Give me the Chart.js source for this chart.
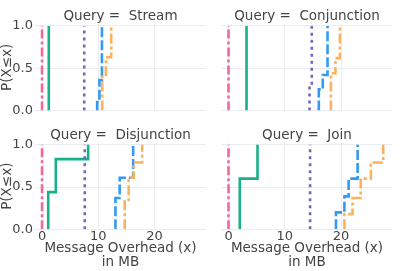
<!DOCTYPE html>
<html><head><meta charset="utf-8">
<script src="https://cdn.jsdelivr.net/npm/chart.js@4.4.1/dist/chart.umd.min.js"></script>
<style>
html,body{margin:0;padding:0;background:#fff;width:407px;height:271px;overflow:hidden}
canvas{position:absolute;left:0;top:0}
</style></head>
<body>
<canvas id="c0" width="407" height="271"></canvas>
<canvas id="c1" width="407" height="271"></canvas>
<canvas id="c2" width="407" height="271"></canvas>
<canvas id="c3" width="407" height="271"></canvas>
<script>
// ---- data ----
const queries = ['Stream', 'Conjunction', 'Disjunction', 'Join'];
const xTicks = [0, 10, 20];
const yTicks = [0, 0.5, 1.0];
const xTitle = ['Message Overhead (x)', 'in MB'];
const yTitle = 'P(X\u2264x)';
// step positions (MB) and cumulative probability after each step, one list per query
const pinkX   = [[0], [0], [0], [0]];
const pinkY   = [[1], [1], [1], [1]];
const greenX  = [[1.2], [3.2], [1.1, 2.45, 8.2], [2.0, 5.15]];
const greenY  = [[1], [1], [0.44, 0.83, 1], [0.6, 1]];
const purpleX = [[7.5], [14.4, 14.8], [7.6], [14.5]];
const purpleY = [[1], [0.3, 1], [1], [1]];
const blueX   = [[9.8, 10.2, 10.65], [16.05, 16.75, 17.6], [13.05, 13.8, 16.2], [19.1, 20.6, 21.35, 22.95]];
const blueY   = [[0.1, 0.36, 1], [0.25, 0.42, 1], [0.37, 0.61, 1], [0.2, 0.39, 0.6, 1]];
const orangeX = [[10.7, 11.35, 12.3], [18.2, 19.0, 19.8], [14.7, 15.4, 16.3, 17.8], [20.6, 22.05, 23.5, 25.3, 27.5]];
const orangeY = [[0.42, 0.63, 1], [0.44, 0.62, 1], [0.33, 0.61, 0.79, 1], [0.18, 0.37, 0.6, 0.79, 1]];

// ---- styling / layout ----
Chart.defaults.font.family = "'DejaVu Sans', sans-serif";
const TEXT = '#444444';
const GRID = '#e9ecf1';
const X_MIN = -1.25, X_MAX = 29.15, Y_MIN = 0, Y_MAX = 1.02;
const W = 407, H = 271, TITLE_H = 15;
const panels = [
  {L: 35, R: 206, T: 24.3, B: 110.5, showY: true, showX: false},
  {L: 221.5, R: 392.5, T: 24.3, B: 110.5, showY: false, showX: false},
  {L: 35, R: 206, T: 143.1, B: 229.3, showY: true, showX: true},
  {L: 221.5, R: 392.5, T: 143.1, B: 229.3, showY: false, showX: true}
];
const series = [
  {xs: orangeX, ys: orangeY, color: '#fdb15c', dash: [10, 3, 3, 3]},
  {xs: blueX, ys: blueY, color: '#3399f5', dash: [10, 3]},
  {xs: purpleX, ys: purpleY, color: '#7466b9', dash: [3, 4]},
  {xs: greenX, ys: greenY, color: '#17b18b', dash: []},
  {xs: pinkX, ys: pinkY, color: '#f4669b', dash: [9, 3, 3, 3]}
];

panels.forEach((p, i) => {
  const datasets = series.map(s => ({
    data: [{x: s.xs[i][0], y: 0}].concat(s.xs[i].map((x, k) => ({x: x, y: s.ys[i][k]}))),
    borderColor: s.color,
    borderWidth: 2.6,
    borderDash: s.dash,
    stepped: 'before',
    pointRadius: 0,
    fill: false
  }));
  new Chart(document.getElementById('c' + i), {
    type: 'line',
    data: {datasets},
    options: {
      responsive: false,
      animation: false,
      events: [],
      layout: {padding: {
        left: p.showY ? 0 : p.L,
        right: W - p.R,
        top: p.T - TITLE_H,
        bottom: p.showX ? 0 : H - p.B
      }},
      plugins: {
        legend: {display: false},
        tooltip: {enabled: false},
        title: {
          display: true, text: 'Query =  ' + queries[i], fullSize: false,
          color: TEXT, padding: 0,
          font: {size: 13.5, weight: 'normal', lineHeight: '15px'}
        }
      },
      scales: {
        x: {
          type: 'linear', min: X_MIN, max: X_MAX,
          afterBuildTicks: a => { a.ticks = xTicks.map(v => ({value: v})); },
          afterFit: a => { a.height = p.showX ? H - p.B : 0; },
          grid: {color: GRID, drawTicks: false, lineWidth: 1},
          border: {display: false},
          ticks: {display: p.showX, padding: 1, color: TEXT, font: {size: 13, lineHeight: '13px'}},
          title: {display: p.showX, text: xTitle, color: TEXT,
                  font: {size: 13.5, lineHeight: '14px'}, padding: {top: 0, bottom: 2}}
        },
        y: {
          type: 'linear', min: Y_MIN, max: Y_MAX,
          afterBuildTicks: a => { a.ticks = yTicks.map(v => ({value: v})); },
          afterFit: a => { a.width = p.showY ? p.L : 0; },
          grid: {color: GRID, drawTicks: false, lineWidth: 1},
          border: {display: false},
          ticks: {display: p.showY, padding: 2, color: TEXT, font: {size: 13},
                  callback: v => Number(v).toFixed(1)},
          title: {display: p.showY, text: yTitle, color: TEXT,
                  font: {size: 13.5, lineHeight: '15px'}, padding: {top: 0, bottom: 0}}
        }
      }
    }
  });
});
</script>
</body></html>
